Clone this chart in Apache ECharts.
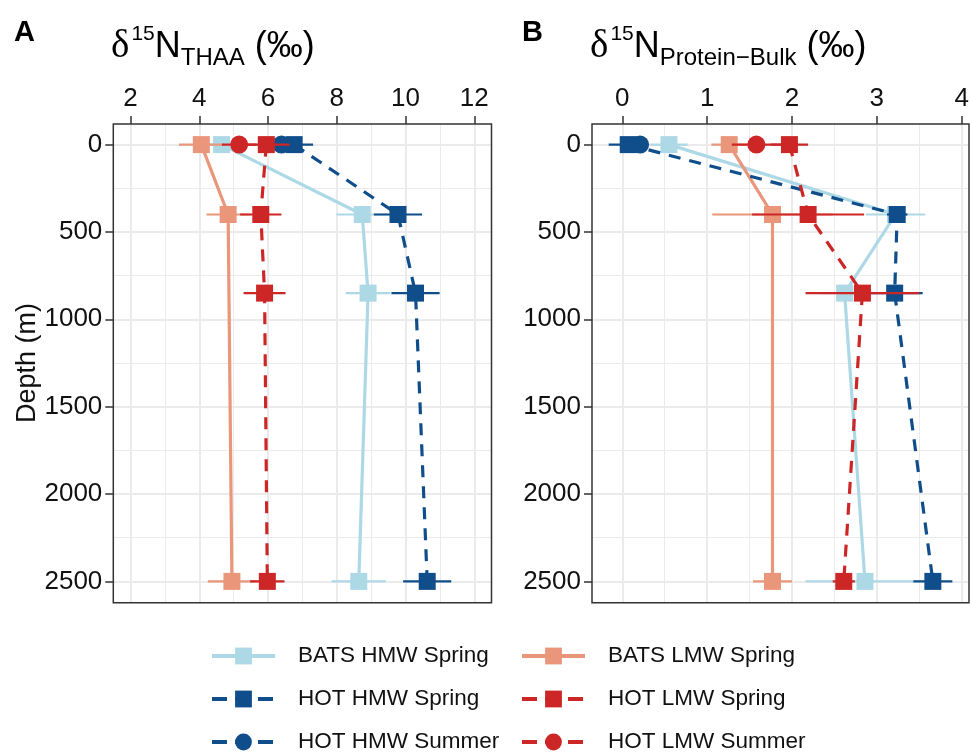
<!DOCTYPE html>
<html>
<head>
<meta charset="utf-8">
<script src="https://cdn.jsdelivr.net/npm/echarts@6/dist/echarts.min.js"></script>
<style>html,body{margin:0;padding:0;background:#fff}#c{width:972px;height:752px}</style>
</head>
<body>
<div id="c"></div>
<script>
// ---------- data ----------
const depths = [0, 400, 850, 2500];
const depthsLMW = [0, 400, 2500];
const depthsSurface = [0];

const xTicksA = [2, 4, 6, 8, 10, 12];
const xTicksB = [0, 1, 2, 3, 4];
const yTicks = [0, 500, 1000, 1500, 2000, 2500];

// Panel A: d15N THAA
const thaaBatsHMW = [4.65, 8.74, 8.91, 8.64];
const thaaBatsHMWErr = [0.4, 0.75, 0.65, 0.79];
const thaaBatsLMW = [4.06, 4.84, 4.95];
const thaaBatsLMWErr = [0.65, 0.63, 0.7];
const thaaHotHMWSp = [6.76, 9.78, 10.29, 10.63];
const thaaHotHMWSpErr = [0.55, 0.7, 0.7, 0.7];
const thaaHotLMWSp = [5.95, 5.79, 5.90, 5.98];
const thaaHotLMWSpErr = [0.68, 0.6, 0.61, 0.5];
const thaaHotHMWSu = [6.39];
const thaaHotHMWSuErr = [0.3];
const thaaHotLMWSu = [5.16];
const thaaHotLMWSuErr = [0.5];

// Panel B: d15N Protein-Bulk
const pbBatsHMW = [0.55, 3.22, 2.62, 2.86];
const pbBatsHMWErr = [0.22, 0.35, 0.3, 0.7];
const pbBatsLMW = [1.26, 1.77, 1.77];
const pbBatsLMWErr = [0.21, 0.71, 0.23];
const pbHotHMWSp = [0.07, 3.24, 3.21, 3.66];
const pbHotHMWSpErr = [0.23, 0.12, 0.33, 0.23];
const pbHotLMWSp = [1.97, 2.19, 2.83, 2.61];
const pbHotLMWSpErr = [0.22, 0.66, 0.67, 0.13];
const pbHotHMWSu = [0.21];
const pbHotHMWSuErr = [0.1];
const pbHotLMWSu = [1.58];
const pbHotLMWSuErr = [0.29];

const seriesNames = ['BATS HMW Spring', 'BATS LMW Spring', 'HOT HMW Spring', 'HOT HMW Summer', 'HOT LMW Spring', 'HOT LMW Summer'];
const legendCol1 = ['BATS HMW Spring', 'HOT HMW Spring', 'HOT HMW Summer'];
const legendCol2 = ['BATS LMW Spring', 'HOT LMW Spring', 'HOT LMW Summer'];

// ---------- styles ----------
const COL = {
  'BATS HMW Spring': '#ADD8E6',
  'BATS LMW Spring': '#E9967A',
  'HOT HMW Spring': '#104E8B',
  'HOT HMW Summer': '#104E8B',
  'HOT LMW Spring': '#CD2626',
  'HOT LMW Summer': '#CD2626'
};
const SYM = {
  'BATS HMW Spring': 'rect', 'BATS LMW Spring': 'rect', 'HOT HMW Spring': 'rect',
  'HOT HMW Summer': 'circle', 'HOT LMW Spring': 'rect', 'HOT LMW Summer': 'circle'
};
const DASH = {
  'BATS HMW Spring': 'solid', 'BATS LMW Spring': 'solid', 'HOT HMW Spring': [12, 9],
  'HOT HMW Summer': [12, 9], 'HOT LMW Spring': [12, 9], 'HOT LMW Summer': [12, 9]
};
const FONT = 'Liberation Sans, Arial, sans-serif';

const panels = [
  { L: 113.3, R: 491.5, xmin: 1.5, xmax: 12.5, ticks: xTicksA, interval: 2,
    data: {
      'BATS HMW Spring': [depths, thaaBatsHMW, thaaBatsHMWErr],
      'BATS LMW Spring': [depthsLMW, thaaBatsLMW, thaaBatsLMWErr],
      'HOT HMW Spring': [depths, thaaHotHMWSp, thaaHotHMWSpErr],
      'HOT HMW Summer': [depthsSurface, thaaHotHMWSu, thaaHotHMWSuErr],
      'HOT LMW Spring': [depths, thaaHotLMWSp, thaaHotLMWSpErr],
      'HOT LMW Summer': [depthsSurface, thaaHotLMWSu, thaaHotLMWSuErr]
    }, yName: 'Depth (m)' },
  { L: 592, R: 969, xmin: -0.357, xmax: 4.086, ticks: xTicksB, interval: 1,
    data: {
      'BATS HMW Spring': [depths, pbBatsHMW, pbBatsHMWErr],
      'BATS LMW Spring': [depthsLMW, pbBatsLMW, pbBatsLMWErr],
      'HOT HMW Spring': [depths, pbHotHMWSp, pbHotHMWSpErr],
      'HOT HMW Summer': [depthsSurface, pbHotHMWSu, pbHotHMWSuErr],
      'HOT LMW Spring': [depths, pbHotLMWSp, pbHotLMWSpErr],
      'HOT LMW Summer': [depthsSurface, pbHotLMWSu, pbHotLMWSuErr]
    }, yName: '' }
];
const T = 124, BOT = 602.7, YMIN = -118, YMAX = 2622;
const H = BOT - T;

const grid = [], xAxis = [], yAxis = [], series = [], graphic = [];
const gridLine = { show: true, lineStyle: { color: '#EBEBEB', width: 2 } };
const minorLine = { show: true, lineStyle: { color: '#EBEBEB', width: 1 } };
const tickStyle = { show: true, inside: false, length: 8, lineStyle: { color: '#333', width: 1.5 } };
const plainNum = v => String(v);

panels.forEach((p, pi) => {
  const W = p.R - p.L;
  const t0 = p.ticks[0], t1 = p.ticks[p.ticks.length - 1];
  const y0 = yTicks[0], y1 = yTicks[yTicks.length - 1];
  const base = pi * 3;
  // main data grid
  grid.push({ left: p.L, top: T, width: W, height: H });
  xAxis.push({ type: 'value', gridIndex: base, min: p.xmin, max: p.xmax, show: false });
  yAxis.push({ type: 'value', gridIndex: base, min: YMIN, max: YMAX, inverse: true, show: false });
  // x tick / vertical gridline grid
  grid.push({ left: p.L + (t0 - p.xmin) / (p.xmax - p.xmin) * W, width: (t1 - t0) / (p.xmax - p.xmin) * W, top: T, height: H });
  xAxis.push({ type: 'value', gridIndex: base + 1, min: t0, max: t1, interval: p.interval, position: 'top',
    axisLine: { show: false, onZero: false }, axisTick: tickStyle,
    axisLabel: { fontSize: 26, color: '#111', margin: 12, fontFamily: FONT, formatter: plainNum },
    splitLine: gridLine, minorTick: { show: false, splitNumber: 2 }, minorSplitLine: minorLine });
  yAxis.push({ type: 'value', gridIndex: base + 1, min: 0, max: 1, show: false });
  // y tick / horizontal gridline grid
  grid.push({ left: p.L, width: W, top: T + (y0 - YMIN) / (YMAX - YMIN) * H, height: (y1 - y0) / (YMAX - YMIN) * H });
  xAxis.push({ type: 'value', gridIndex: base + 2, min: 0, max: 1, show: false });
  yAxis.push({ type: 'value', gridIndex: base + 2, min: y0, max: y1, interval: 500, inverse: true, position: 'left',
    axisLine: { show: false, onZero: false }, axisTick: tickStyle,
    axisLabel: { fontSize: 26, color: '#111', margin: 11, fontFamily: FONT, formatter: plainNum },
    splitLine: gridLine, minorTick: { show: false, splitNumber: 2 }, minorSplitLine: minorLine,
    name: p.yName, nameLocation: 'middle', nameGap: 70, nameRotate: 90,
    nameTextStyle: { fontSize: 27, color: '#111', fontFamily: FONT } });

  seriesNames.forEach((name, si) => {
    const [dep, val, err] = p.data[name];
    const color = COL[name];
    series.push({
      type: 'custom', name: 'err ' + name, xAxisIndex: base, yAxisIndex: base, z: 3 + si * 2,
      data: dep.map((d, i) => [val[i] - err[i], d, val[i] + err[i]]),
      encode: { x: [0, 2], y: 1 },
      renderItem: (params, api) => {
        const a = api.coord([api.value(0), api.value(1)]);
        const b = api.coord([api.value(2), api.value(1)]);
        return { type: 'line', shape: { x1: a[0], y1: a[1], x2: b[0], y2: b[1] },
          style: { stroke: color, lineWidth: 2.2 } };
      },
      silent: true
    });
    series.push({
      type: 'line', name: name, xAxisIndex: base, yAxisIndex: base, z: 4 + si * 2,
      data: dep.map((d, i) => [val[i], d]),
      symbol: SYM[name], symbolSize: SYM[name] === 'circle' ? 18 : 17,
      itemStyle: { color: color, opacity: 1 },
      lineStyle: { color: color, width: 3.2, type: DASH[name] },
      showSymbol: true, animation: false, silent: true
    });
  });

  graphic.push({ type: 'rect', shape: { x: p.L, y: T, width: W, height: H },
    style: { fill: 'none', stroke: '#333', lineWidth: 1.5 }, z: 100, silent: true });
});

const titleRich = {
  d: { fontFamily: 'Liberation Serif, DejaVu Serif, serif', fontSize: 39, lineHeight: 46, color: '#000', fontWeight: 'normal' },
  n: { fontFamily: FONT, fontSize: 36, lineHeight: 46, color: '#000', fontWeight: 'normal' },
  sup: { fontFamily: FONT, fontSize: 21, lineHeight: 21, verticalAlign: 'top', color: '#000', fontWeight: 'normal', padding: [0, 0, 0, 2] },
  sub: { fontFamily: FONT, fontSize: 24, lineHeight: 32, verticalAlign: 'bottom', color: '#000', fontWeight: 'normal' }
};

// one legend per entry so rows/columns align exactly
const rowCenters = [656, 699, 742];
const legend = [];
[[legendCol1, 210], [legendCol2, 520]].forEach(([names, left]) => {
  names.forEach((nm, r) => {
    const dashed = DASH[nm] !== 'solid';
    legend.push({
      orient: 'horizontal', left: left, top: rowCenters[r] - 13, itemWidth: 63, itemHeight: 21,
      selectedMode: false, padding: 0, data: [nm],
      lineStyle: { width: 4, type: dashed ? [15, 8] : 'solid' },
      textStyle: { fontSize: 22.5, color: '#111', lineHeight: 26, fontFamily: FONT, padding: [0, 0, 0, 18] }
    });
  });
});

const option = {
  animation: false,
  backgroundColor: '#fff',
  title: [
    { text: 'A', left: 14, top: 18, padding: 0, textStyle: { fontSize: 29, fontWeight: 'bold', color: '#000', fontFamily: FONT } },
    { text: '{d|δ}{sup|15}{n|N}{sub|THAA}{n| (‰)}', left: 111, top: 24, padding: 0, textStyle: { fontWeight: 'normal', rich: titleRich } },
    { text: 'B', left: 522, top: 18, padding: 0, textStyle: { fontSize: 29, fontWeight: 'bold', color: '#000', fontFamily: FONT } },
    { text: '{d|δ}{sup|15}{n|N}{sub|Protein\u2212Bulk}{n| (‰)}', left: 590, top: 24, padding: 0, textStyle: { fontWeight: 'normal', rich: titleRich } }
  ],
  legend,
  grid, xAxis, yAxis, series, graphic
};

const chart = echarts.init(document.getElementById('c'), null, { renderer: 'canvas' });
chart.setOption(option);
</script>
</body>
</html>
